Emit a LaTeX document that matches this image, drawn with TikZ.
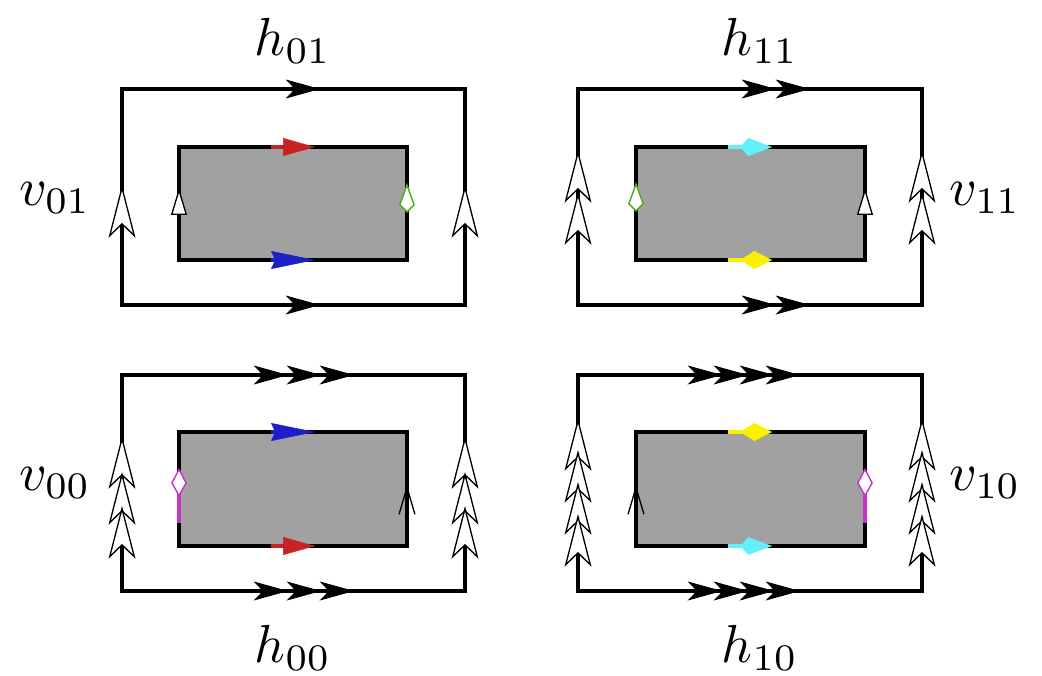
\documentclass[tikz,border=0pt]{standalone}
\usetikzlibrary{arrows.meta}
\definecolor{panelgray}{RGB}{161,161,161}
\definecolor{arrred}{RGB}{200,35,35}
\definecolor{arrblue}{RGB}{30,30,200}
\definecolor{arrcyan}{RGB}{100,240,250}
\definecolor{arryellow}{RGB}{250,240,0}
\definecolor{arrgreen}{RGB}{80,170,20}
\definecolor{arrmagenta}{RGB}{200,50,200}
\tikzset{
  edge/.style={line width=2pt},
  inner/.style={line width=2pt, fill=panelgray},
  harr/.style={line width=2pt,-{Stealth[length=19.5pt,width=10.8pt,inset=5.2pt,line width=0.4pt]}},
  varr/.style={line width=2pt,-{Stealth[fill=white,length=30pt,width=15.3pt,inset=7.4pt,line width=0.75pt]}},
  redarr/.style={line width=2pt, arrred, -{Triangle[length=18.2pt,width=10.2pt,line width=0.3pt]}},
  bluearr/.style={line width=2pt, arrblue, -{Stealth[length=25pt,width=10.2pt,inset=2.3pt,line width=0.3pt]}},
  cyanarr/.style={line width=2pt, arrcyan, -{Kite[length=18pt,width=10.2pt,inset=4.5pt,line width=0.3pt]}},
  yellowarr/.style={line width=2pt, arryellow, -{Kite[length=18pt,width=10.2pt,inset=8pt,line width=0.3pt]}},
  greenarr/.style={line width=2pt, -{Kite[color=arrgreen,fill=white,length=17pt,width=9pt,inset=4.5pt,line width=0.8pt]}},
  magarr/.style={line width=2pt, arrmagenta, -{Kite[fill=white,length=16.5pt,width=9pt,inset=8pt,line width=0.8pt]}},
  triarr/.style={line width=2pt, -{Triangle[fill=white,length=15.3pt,width=9pt,line width=0.75pt]}},
  barbarr/.style={line width=2pt, -{Straight Barb[length=15.3pt,width=9pt,line width=0.75pt]}},
  lab/.style={scale=3.05, inner sep=0pt, anchor=base}
}
\begin{document}
\begin{tikzpicture}[x=0.02cm,y=-0.02cm]
\useasboundingbox (0,0) rectangle (1042,676);
% corners
\coordinate (tlA) at (122,89);  \coordinate (tlB) at (465,305);
\coordinate (tla) at (179,147); \coordinate (tlb) at (407,260);
\coordinate (trA) at (578,89);  \coordinate (trB) at (922,305);
\coordinate (tra) at (636,147); \coordinate (trb) at (865,260);
\coordinate (blA) at (122,375); \coordinate (blB) at (465,591);
\coordinate (bla) at (179,432); \coordinate (blb) at (407,546);
\coordinate (brA) at (578,375); \coordinate (brB) at (922,591);
\coordinate (bra) at (636,432); \coordinate (brb) at (865,546);
% rectangles
\draw[edge] (tlA) rectangle (tlB);
\draw[inner] (tla) rectangle (tlb);
\draw[edge] (trA) rectangle (trB);
\draw[inner] (tra) rectangle (trb);
\draw[edge] (blA) rectangle (blB);
\draw[inner] (bla) rectangle (blb);
\draw[edge] (brA) rectangle (brB);
\draw[inner] (bra) rectangle (brb);
% ---------- top left
\draw[harr] (280,89) -- (320,89);
\draw[harr] (280,305) -- (320,305);
\draw[varr] (122,255) -- (122,185);
\draw[varr] (465,255) -- (465,185);
\draw[redarr] (271,147) -- (315,147);
\draw[bluearr] (271,260) -- (315,260);
\draw[triarr] (179,240) -- (179,188);
\draw[greenarr] (407,240) -- (407,183);
% ---------- top right
\foreach \t in {776,810} {
  \draw[harr] (\t-40,89) -- (\t,89);
  \draw[harr] (\t-40,305) -- (\t,305);
}
\foreach \t in {150,192} {
  \draw[varr] (578,\t+70) -- (578,\t);
  \draw[varr] (922,\t+70) -- (922,\t);
}
\draw[cyanarr] (728,147) -- (772,147);
\draw[yellowarr] (728,260) -- (772,260);
\draw[greenarr] (636,240) -- (636,182);
\draw[triarr] (865,240) -- (865,188);
% ---------- bottom left
\foreach \t in {288,321,354} {
  \draw[harr] (\t-40,375) -- (\t,375);
  \draw[harr] (\t-40,591) -- (\t,591);
}
\foreach \t in {436,472,506} {
  \draw[varr] (122,\t+70) -- (122,\t);
  \draw[varr] (465,\t+70) -- (465,\t);
}
\draw[bluearr] (271,432) -- (315,432);
\draw[redarr] (271,546) -- (315,546);
\draw[magarr] (179,523) -- (179,468);
\draw[barbarr] (407,530) -- (407,485);
% ---------- bottom right
\foreach \t in {722,748,774,800} {
  \draw[harr] (\t-40,375) -- (\t,375);
  \draw[harr] (\t-40,591) -- (\t,591);
}
\foreach \t in {418,450,482,514} {
  \draw[varr] (578,\t+70) -- (578,\t);
  \draw[varr] (922,\t+70) -- (922,\t);
}
\draw[yellowarr] (728,432) -- (772,432);
\draw[cyanarr] (728,546) -- (772,546);
\draw[barbarr] (636,530) -- (636,485);
\draw[magarr] (865,523) -- (865,468);
% ---------- labels
\node[lab] (h01) at (293,55) {$h_{01}$};
\node[lab] (h11) at (760,55) {$h_{11}$};
\node[lab] (h00) at (293,662) {$h_{00}$};
\node[lab] (h10) at (760,662) {$h_{10}$};
\node[lab] (v01) at (55,205) {$v_{01}$};
\node[lab] (v11) at (985,205) {$v_{11}$};
\node[lab] (v00) at (55,490) {$v_{00}$};
\node[lab] (v10) at (985,490) {$v_{10}$};
\end{tikzpicture}
\end{document}
